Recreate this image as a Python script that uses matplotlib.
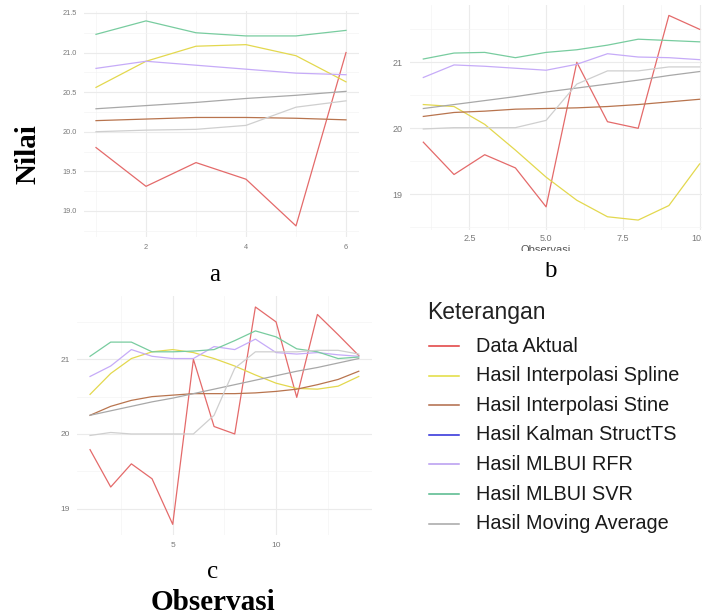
import matplotlib
matplotlib.use("Agg")
import matplotlib.pyplot as plt
from matplotlib.lines import Line2D
from matplotlib.patches import Rectangle
from matplotlib.ticker import MultipleLocator, FormatStrFormatter

W, H = 702, 616

series_names = [
    "Data Aktual",
    "Hasil Interpolasi Spline",
    "Hasil Interpolasi Stine",
    "Hasil Kalman StructTS",
    "Hasil MLBUI RFR",
    "Hasil MLBUI SVR",
    "Hasil Moving Average",
]

# warna garis di panel (tampak pudar) dan warna di legenda
line_colors = ["#e46a6a", "#e3d84e", "#b8744e", "#a8a8a8", "#c6abf8", "#78cc9f", "#cfcfcf"]
legend_colors = ["#e03a3a", "#e2dc3c", "#b06a48", "#2a2ad8", "#b79af0", "#52b88a", "#a6a6a6"]

# panel a (observasi 1-6)
a_aktual = [19.80, 19.31, 19.61, 19.40, 18.81, 21.00]
a_spline = [20.56, 20.89, 21.08, 21.10, 20.96, 20.63]
a_stine = [20.14, 20.16, 20.18, 20.18, 20.17, 20.15]
a_kalman = [20.29, 20.33, 20.37, 20.42, 20.46, 20.51]
a_rfr = [20.80, 20.89, 20.84, 20.79, 20.74, 20.72]
a_svr = [21.23, 21.40, 21.25, 21.21, 21.21, 21.28]
a_ma = [20.00, 20.02, 20.03, 20.08, 20.31, 20.39]

# panel b (observasi 1-10)
b_aktual = [19.79, 19.30, 19.60, 19.40, 18.81, 21.00, 20.10, 20.00, 21.71, 21.50]
b_spline = [20.36, 20.33, 20.06, 19.67, 19.26, 18.91, 18.66, 18.61, 18.83, 19.46]
b_stine = [20.18, 20.24, 20.26, 20.29, 20.30, 20.31, 20.33, 20.36, 20.40, 20.44]
b_kalman = [20.30, 20.36, 20.42, 20.48, 20.55, 20.61, 20.67, 20.73, 20.80, 20.86]
b_rfr = [20.77, 20.96, 20.94, 20.91, 20.88, 20.97, 21.13, 21.08, 21.07, 21.04]
b_svr = [21.05, 21.14, 21.15, 21.07, 21.15, 21.19, 21.26, 21.35, 21.33, 21.31]
b_ma = [19.99, 20.01, 20.01, 20.01, 20.12, 20.67, 20.87, 20.87, 20.93, 20.93]

# panel c (observasi 1-14)
c_aktual = [19.79, 19.29, 19.60, 19.40, 18.79, 21.00, 20.10, 20.00, 21.70, 21.50, 20.49, 21.60, 21.33, 21.05]
c_spline = [20.53, 20.81, 21.01, 21.10, 21.13, 21.09, 21.01, 20.91, 20.79, 20.68, 20.61, 20.60, 20.64, 20.77]
c_stine = [20.25, 20.37, 20.45, 20.50, 20.52, 20.54, 20.54, 20.54, 20.55, 20.57, 20.60, 20.66, 20.73, 20.84]
c_kalman = [20.25, 20.31, 20.37, 20.43, 20.48, 20.54, 20.60, 20.66, 20.72, 20.78, 20.84, 20.89, 20.95, 21.01]
c_rfr = [20.77, 20.91, 21.13, 21.04, 21.01, 21.01, 21.17, 21.13, 21.27, 21.09, 21.07, 21.09, 21.06, 21.04]
c_svr = [21.04, 21.23, 21.23, 21.10, 21.10, 21.11, 21.13, 21.25, 21.38, 21.30, 21.14, 21.10, 21.01, 21.03]
c_ma = [19.98, 20.02, 20.00, 20.00, 20.00, 20.00, 20.25, 20.88, 21.10, 21.10, 21.10, 21.12, 21.12, 21.07]

panels = [
    dict(series=[a_aktual, a_spline, a_stine, a_kalman, a_rfr, a_svr, a_ma],
         box=(83.5, 10.6, 358.5, 237), xlim=(0.75, 6.25), ylim=(18.67, 21.53),
         xmaj=2, ymaj=0.5, xfmt=None, yfmt="%.1f", fs=5.3, pad=5),
    dict(series=[b_aktual, b_spline, b_stine, b_kalman, b_rfr, b_svr, b_ma],
         box=(409.5, 5.2, 713.4, 230.3), xlim=(0.55, 10.45), ylim=(18.455, 21.865),
         xmaj=2.5, ymaj=1, xfmt="%.1f", yfmt=None, fs=6.5, pad=3),
    dict(series=[c_aktual, c_spline, c_stine, c_kalman, c_rfr, c_svr, c_ma],
         box=(76.6, 295.8, 372.2, 534.8), xlim=(0.35, 14.65), ylim=(18.65, 21.85),
         xmaj=5, ymaj=1, xfmt=None, yfmt=None, fs=6, pad=5),
]

fig = plt.figure(figsize=(W / 100, H / 100), dpi=100)


def px_box(l, t, r, b):
    return [l / W, 1 - b / H, (r - l) / W, (b - t) / H]


for p in panels:
    ax = fig.add_axes(px_box(*p["box"]))
    for vals, col in zip(p["series"], line_colors):
        ax.plot(range(1, len(vals) + 1), vals, color=col, lw=0.9)
    ax.set_xlim(*p["xlim"])
    ax.set_ylim(*p["ylim"])
    ax.xaxis.set_major_locator(MultipleLocator(p["xmaj"]))
    ax.xaxis.set_minor_locator(MultipleLocator(p["xmaj"] / 2))
    ax.yaxis.set_major_locator(MultipleLocator(p["ymaj"]))
    ax.yaxis.set_minor_locator(MultipleLocator(p["ymaj"] / 2))
    if p["xfmt"]:
        ax.xaxis.set_major_formatter(FormatStrFormatter(p["xfmt"]))
    if p["yfmt"]:
        ax.yaxis.set_major_formatter(FormatStrFormatter(p["yfmt"]))
    ax.grid(which="major", color="#ebebeb", lw=0.8)
    ax.grid(which="minor", color="#f4f4f4", lw=0.5)
    ax.set_axisbelow(True)
    for s in ax.spines.values():
        s.set_visible(False)
    ax.tick_params(which="both", length=0, labelsize=p["fs"], labelcolor="#7a7a7a")
    ax.tick_params(axis="x", pad=p["pad"])
    ax.tick_params(axis="y", pad=5)
    for lab in ax.get_xticklabels() + ax.get_yticklabels():
        lab.set_fontfamily("Liberation Sans")

# label sumbu x panel b yang terpotong
fig.text(546 / W, 1 - 245 / H, "Observasi", ha="center", va="top", fontsize=8,
         color="#555555", family="Liberation Sans")
fig.add_artist(Rectangle((470 / W, 1 - 262 / H), 150 / W, 11 / H, transform=fig.transFigure,
                         facecolor="white", edgecolor="none", zorder=10))

serif = "Liberation Serif"
fig.text(215 / W, 1 - 275 / H, "a", ha="center", va="center", fontsize=18, family=serif)
fig.text(550 / W, 1 - 271 / H, "b", ha="center", va="center", fontsize=18, family=serif)
fig.text(213 / W, 1 - 572 / H, "c", ha="center", va="center", fontsize=18, family=serif)
fig.text(213 / W, 1 - 603 / H, "Observasi", ha="center", va="center", fontsize=21,
         family=serif, weight="bold")
fig.text(28 / W, 1 - 154 / H, "Nilai", ha="center", va="center", fontsize=21,
         family=serif, weight="bold", rotation=90)

# legenda
fig.text(427 / W, 1 - 313 / H, "Keterangan", ha="left", va="center", fontsize=16.5,
         family="Liberation Sans", color="#222222")
for i, (name, col) in enumerate(zip(series_names, legend_colors)):
    y = 1 - (346 + i * 29.6) / H
    fig.add_artist(Line2D([429 / W, 459 / W], [y, y], color=col, lw=1.1))
    fig.text(476 / W, y, name, ha="left", va="center", fontsize=14.3,
             family="Liberation Sans", color="#1a1a1a")

fig.savefig("out.png", dpi=100, facecolor="white")
